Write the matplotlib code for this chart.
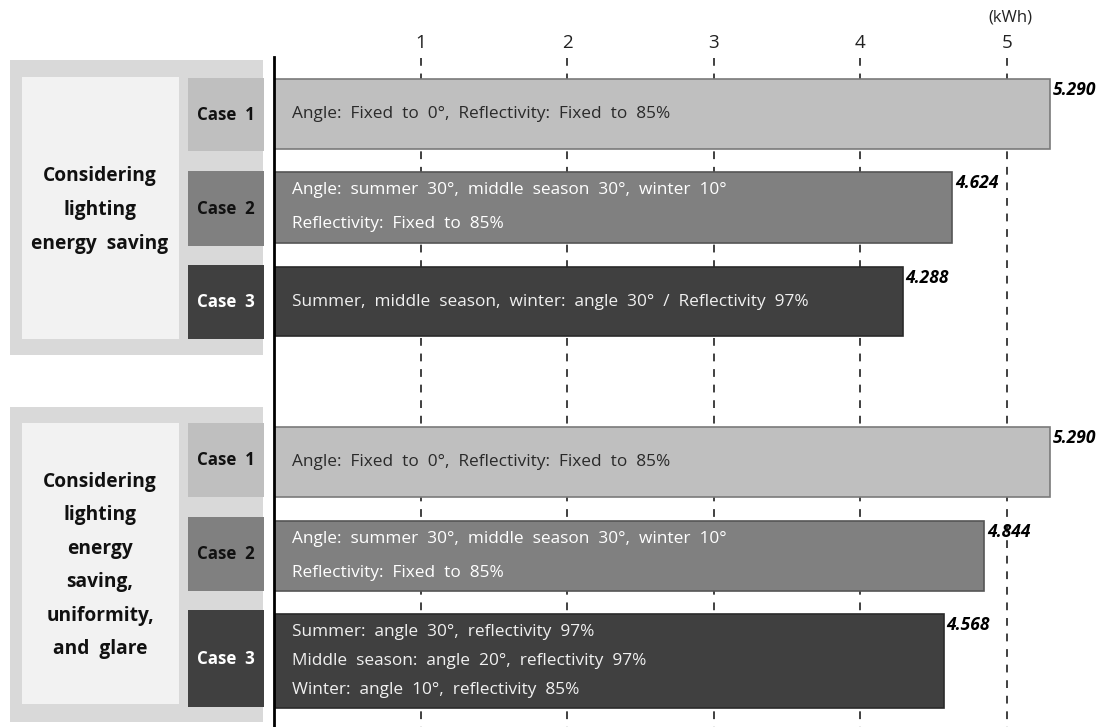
import matplotlib
matplotlib.use("Agg")
import matplotlib.pyplot as plt
from matplotlib.patches import Rectangle

plt.rcParams['font.family'] = ['Open Sans', 'DejaVu Sans']

# data
VALUES = [5.290, 4.624, 4.288, 5.290, 4.844, 4.568]
CASES = ["Case  1", "Case  2", "Case  3", "Case  1", "Case  2", "Case  3"]
GROUPS = ["Considering\nlighting\nenergy  saving",
          "Considering\nlighting\nenergy\nsaving,\nuniformity,\nand  glare"]
BAR_TEXT = [
    ["Angle:  Fixed  to  0°,  Reflectivity:  Fixed  to  85%"],
    ["Angle:  summer  30°,  middle  season  30°,  winter  10°",
     "Reflectivity:  Fixed  to  85%"],
    ["Summer,  middle  season,  winter:  angle  30°  /  Reflectivity  97%"],
    ["Angle:  Fixed  to  0°,  Reflectivity:  Fixed  to  85%"],
    ["Angle:  summer  30°,  middle  season  30°,  winter  10°",
     "Reflectivity:  Fixed  to  85%"],
    ["Summer:  angle  30°,  reflectivity  97%",
     "Middle  season:  angle  20°,  reflectivity  97%",
     "Winter:  angle  10°,  reflectivity  85%"],
]
TICKS = [1, 2, 3, 4, 5]

# layout (pixels, y from top)
W, H = 1104, 727
X0 = 274
PX_PER_KWH = 146.6
BAR_CENTER = [114, 207.5, 301.5, 462, 556, 661]
BAR_HEIGHT = [70, 71, 69, 70, 70, 94]
FILL = ["#bfbfbf", "#808080", "#404040"] * 2
EDGE = ["#7a7a7a", "#555555", "#2a2a2a"] * 2
TXT_COL = ["#2a2a2a", "white", "#f0f0f0"] * 2

fig = plt.figure(figsize=(W / 100, H / 100), dpi=100)

# bar area
ax = fig.add_axes([X0 / W, 0, (W - X0) / W, 1])
ax.set_xlim(0, (W - X0) / PX_PER_KWH)
ax.set_ylim(H, 0)
ax.axis("off")

for t in TICKS:
    ax.plot([t, t], [58, H], color="#404040", lw=1.4, ls=(0, (4, 4)), zorder=1)
    ax.text(t, 43, str(t), ha="center", va="center", fontsize=13.5, color="#222222")
ax.text(5.02, 18, "(kWh)", ha="center", va="center", fontsize=12, color="#222222")
ax.plot([0, 0], [57, H], color="black", lw=2, zorder=5, clip_on=False)

ax.barh(BAR_CENTER, VALUES, height=BAR_HEIGHT, left=0, color=FILL,
        edgecolor=EDGE, linewidth=1.2, zorder=2)

for i, v in enumerate(VALUES):
    top = BAR_CENTER[i] - BAR_HEIGHT[i] / 2
    ax.text(v + 0.02, top + 11, f"{v:.3f}", ha="left", va="center",
            fontsize=12.5, fontweight="bold", fontstyle="italic", zorder=6)
    lines = BAR_TEXT[i]
    sp = 34 if len(lines) == 2 else 28.5
    for j, s in enumerate(lines):
        y = BAR_CENTER[i] + (j - (len(lines) - 1) / 2) * sp
        ax.text(0.12, y, s, ha="left", va="center", fontsize=12.4,
                color=TXT_COL[i], zorder=6)

# left panels
lx = fig.add_axes([0, 0, X0 / W, 1])
lx.set_xlim(0, X0)
lx.set_ylim(H, 0)
lx.axis("off")

OUTER = [(60, 355), (407, 722)]
INNER = [(77, 339), (423, 704)]
CASE_BOX = [(78, 151), (171, 246), (265, 339), (423, 497), (517, 591), (610, 707)]

for g in range(2):
    y0, y1 = OUTER[g]
    lx.add_patch(Rectangle((10, y0), 263 - 10, y1 - y0, color="#d9d9d9", lw=0))
    y0, y1 = INNER[g]
    lx.add_patch(Rectangle((22, y0), 179 - 22, y1 - y0, color="#f2f2f2", lw=0))
    lx.text(100, (y0 + y1) / 2 + 2, GROUPS[g], ha="center", va="center",
            fontsize=13.8, fontweight="bold", linespacing=1.9, color="#111111")

for i, (y0, y1) in enumerate(CASE_BOX):
    lx.add_patch(Rectangle((188, y0), 264 - 188, y1 - y0, color=FILL[i], lw=0))
    lx.text(226, (y0 + y1) / 2, CASES[i], ha="center", va="center",
            fontsize=12.2, fontweight="bold",
            color="white" if i % 3 == 2 else "#111111")

fig.savefig("out.png", dpi=100)
